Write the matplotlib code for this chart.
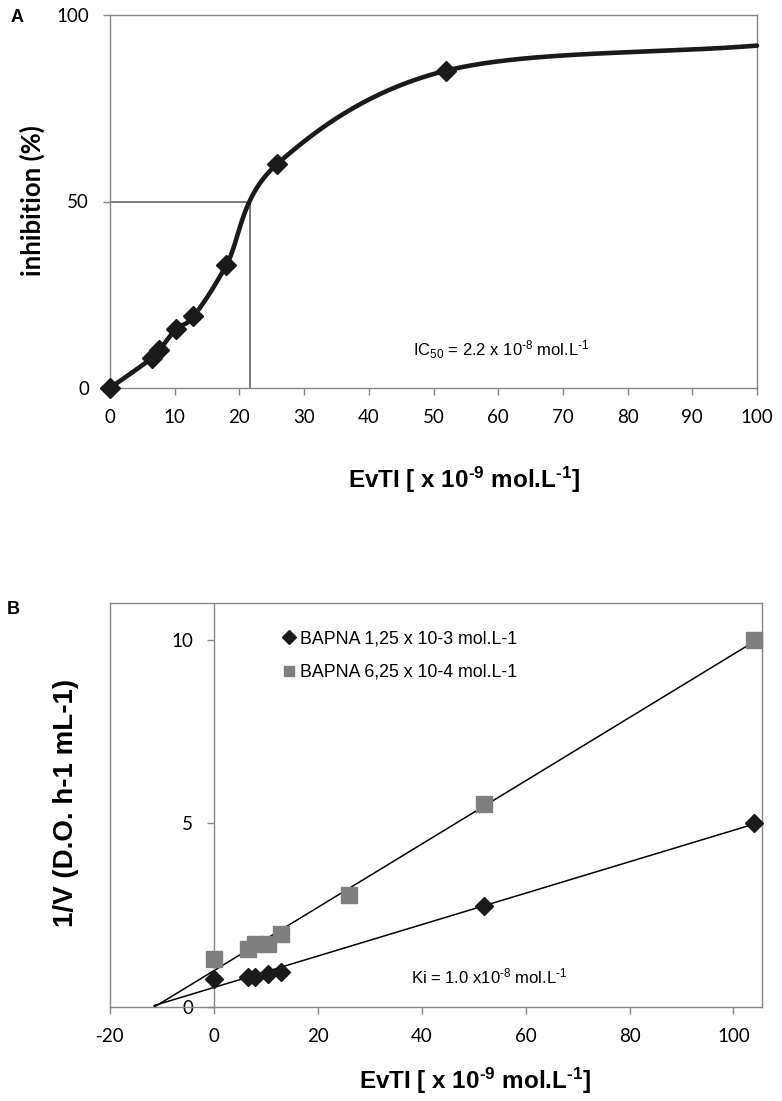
import numpy as np
import matplotlib
matplotlib.use('Agg')
import matplotlib.pyplot as plt
from matplotlib import font_manager as fm

names = {f.name for f in fm.fontManager.ttflist}
TICKF = 'Lato' if 'Lato' in names else 'DejaVu Sans'

plt.rcParams['font.family'] = ['Liberation Sans', 'DejaVu Sans']
plt.rcParams['axes.unicode_minus'] = False
plt.rcParams['mathtext.fontset'] = 'custom'
plt.rcParams['mathtext.rm'] = 'Liberation Sans'
plt.rcParams['mathtext.it'] = 'Liberation Sans:italic'
plt.rcParams['mathtext.bf'] = 'Liberation Sans:bold'

# ---------------- data: panel A (inhibition curve) ----------------
conc_a = [0, 6.5, 7.6, 10.2, 12.9, 18.0, 25.8, 52.0]
inhib_a = [0, 8.0, 10.1, 15.8, 19.2, 33.0, 60.0, 85.1]
curve_end_x = [100]
curve_end_y = [91.8]
ic50 = 21.7
xticks_a = list(range(0, 101, 10))
yticks_a = [0, 50, 100]

# ---------------- data: panel B (Dixon plot) ----------------
conc_b1 = [0, 6.5, 8.0, 10.4, 13.0, 52.0, 104.0]
invv_b1 = [0.77, 0.83, 0.83, 0.89, 0.94, 2.74, 5.02]
conc_b2 = [0, 6.5, 8.0, 10.4, 13.0, 26.0, 52.0, 104.0]
invv_b2 = [1.31, 1.58, 1.71, 1.71, 1.99, 3.04, 5.52, 10.0]
labels_b = ['BAPNA 1,25 x 10-3 mol.L-1', 'BAPNA 6,25 x 10-4 mol.L-1']
backcast = 11.5
xticks_b = list(range(-20, 101, 20))
yticks_b = [0, 5, 10]

SPINE = '#868686'
DARK = '#1a1a1a'
GREY = '#7f7f7f'
HY = '\u2010'  # short hyphen for superscripts


def catmull_rom(xs, ys, n=60):
    P = np.column_stack([xs, ys]).astype(float)
    P = np.vstack([2 * P[0] - P[1], P, 2 * P[-1] - P[-2]])
    t = np.linspace(0, 1, n)[:, None]
    h00 = 2 * t**3 - 3 * t**2 + 1
    h10 = t**3 - 2 * t**2 + t
    h01 = -2 * t**3 + 3 * t**2
    h11 = t**3 - t**2
    out = []
    for i in range(1, len(P) - 2):
        p0, p1, p2, p3 = P[i - 1], P[i], P[i + 1], P[i + 2]
        m1 = (p2 - p0) / 2
        m2 = (p3 - p1) / 2
        out.append(h00 * p1 + h10 * m1 + h01 * p2 + h11 * m2)
    seg = np.vstack(out)
    return seg[:, 0], seg[:, 1]


W, H = 782, 1101
fig = plt.figure(figsize=(W / 100, H / 100), dpi=100)


def style_ticks(ax, size=13.5):
    ax.tick_params(direction='out', length=5, width=1, color=SPINE, pad=10,
                   labelsize=size)
    for lbl in ax.get_xticklabels() + ax.get_yticklabels():
        lbl.set_fontfamily(TICKF)


# ---------------- panel A ----------------
axA = fig.add_axes([110 / W, 1 - 388 / H, 647 / W, 373 / H])
cx, cy = catmull_rom(conc_a + curve_end_x, inhib_a + curve_end_y)
axA.plot(cx, cy, color=DARK, lw=3.3, solid_capstyle='round', zorder=3, clip_on=False)
axA.plot(conc_a, inhib_a, 'D', color=DARK, ms=10, zorder=4, clip_on=False)
axA.plot([0, ic50], [50, 50], color='#555555', lw=1.1, zorder=2)
axA.plot([ic50, ic50], [0, 50], color='#555555', lw=1.1, zorder=2)
axA.set_xlim(0, 100)
axA.set_ylim(0, 100)
axA.set_xticks(xticks_a)
axA.set_yticks(yticks_a)
for s in axA.spines.values():
    s.set_color(SPINE)
    s.set_linewidth(1)
style_ticks(axA)
axA.text(46.8, 10.2, 'IC$_{50}$ = 2.2 x 10$^{' + HY + '8}$ mol.L$^{' + HY + '1}$',
         fontsize=12, va='center', ha='left')

fig.text(32 / W, 1 - 201 / H, 'inhibition (%)', rotation=90, ha='center',
         va='center', fontsize=18.5, fontweight='bold', fontfamily=TICKF)
xlab = r'EvTI [ x 10$^{\mathbf{' + HY + r'9}}$ mol.L$^{\mathbf{' + HY + r'1}}$]'
fig.text(464 / W, 1 - 480 / H, xlab, ha='center', va='center', fontsize=17.5,
         fontweight='bold')
fig.text(17 / W, 1 - 18 / H, 'A', ha='center', va='center', fontsize=13,
         fontweight='bold')

# ---------------- panel B ----------------
axB = fig.add_axes([110 / W, 1 - 1007 / H, 652 / W, 404 / H])
series = [(conc_b1, invv_b1, 'D', DARK, 9.5), (conc_b2, invv_b2, 's', GREY, 11)]
handles = []
for (xs, ys, mk, col, ms), lab in zip(series, labels_b):
    k, b = np.polyfit(xs, ys, 1)
    xx = np.array([-backcast, max(xs)])
    axB.plot(xx, k * xx + b, color='black', lw=1.1, zorder=2)
    h, = axB.plot(xs, ys, mk, color=col, ms=ms, zorder=3, clip_on=False,
                  label=lab)
    handles.append(h)
axB.set_xlim(-20, 105.5)
axB.set_ylim(0, 11)
axB.set_xticks(xticks_b)
axB.set_yticks(yticks_b)
for s in axB.spines.values():
    s.set_color(SPINE)
    s.set_linewidth(1)
axB.spines['left'].set_position(('data', 0))
axB.plot([0, 0], [0, 1], transform=axB.transAxes, color=SPINE, lw=1,
         clip_on=False)
style_ticks(axB)
axB.text(38, 0.82, 'Ki = 1.0 x10$^{' + HY + '8}$ mol.L$^{' + HY + '1}$',
         fontsize=12, va='center', ha='left')
leg = axB.legend(handles=handles, loc='upper left',
                 bbox_to_anchor=(0.25, 0.955), frameon=False, fontsize=12.8,
                 handlelength=0.8, handletextpad=0.2, labelspacing=0.95,
                 borderpad=0, markerscale=0.7)

fig.text(66 / W, 1 - 803 / H, '1/V (D.O. h-1 mL-1)', rotation=90,
         ha='center', va='center', fontsize=20, fontweight='bold')
fig.text(475 / W, 1 - 1081 / H, xlab, ha='center', va='center', fontsize=17.5,
         fontweight='bold')
fig.text(13 / W, 1 - 610 / H, 'B', ha='center', va='center', fontsize=13,
         fontweight='bold')

fig.savefig('out.png', dpi=100)
